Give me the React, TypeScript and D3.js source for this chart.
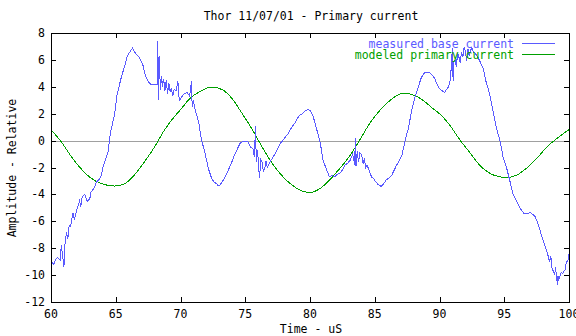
import React from "react";
import * as d3 from "d3";

const xTicks = [60, 65, 70, 75, 80, 85, 90, 95, 100];
const yTicks = [-12, -10, -8, -6, -4, -2, 0, 2, 4, 6, 8];

const measuredX = [
  60.0, 60.2, 60.4, 60.5, 60.7, 60.8, 60.9, 61.0, 61.05, 61.2, 61.3, 61.4, 61.5, 61.7, 61.8, 61.9, 62.0, 62.2, 62.3, 62.4,
  62.6, 62.8, 63.0, 63.1, 63.2, 63.35, 63.5, 63.7, 63.9, 64.0, 64.1, 64.25, 64.4, 64.6, 64.9, 65.1, 65.4, 65.7, 65.9, 66.1,
  66.3, 66.45, 66.6, 66.8, 67.1, 67.3, 67.5, 67.7, 68.0, 68.2, 68.25, 68.3, 68.35, 68.45, 68.55, 68.6, 68.7, 68.8, 68.9, 69.0,
  69.1, 69.2, 69.3, 69.4, 69.5, 69.65, 69.8, 69.9, 70.0, 70.2, 70.35, 70.5, 70.7, 70.85, 70.9, 71.0, 71.1, 71.25, 71.4, 71.6,
  71.9, 72.15, 72.4, 72.6, 72.8, 72.9, 73.05, 73.2, 73.4, 73.6, 73.8, 74.0, 74.2, 74.4, 74.6, 74.8, 75.0, 75.2, 75.4, 75.6,
  75.7, 75.8, 75.85, 75.95, 76.05, 76.1, 76.2, 76.3, 76.4, 76.5, 76.6, 76.7, 76.9, 77.1, 77.3, 77.5, 77.7, 77.9, 78.1, 78.3,
  78.45, 78.6, 78.8, 79.0, 79.2, 79.4, 79.6, 79.8, 80.0, 80.26, 80.5, 80.8, 81.0, 81.3, 81.5, 81.7, 81.9, 82.1, 82.3, 82.5,
  82.7, 82.9, 83.1, 83.3, 83.45, 83.5, 83.55, 83.65, 83.75, 83.85, 84.0, 84.1, 84.2, 84.3, 84.4, 84.6, 84.75, 84.9, 85.1, 85.3,
  85.5, 85.7, 85.9, 86.1, 86.3, 86.5, 86.7, 86.9, 87.1, 87.3, 87.45, 87.6, 87.85, 88.1, 88.4, 88.6, 88.8, 89.0, 89.2, 89.3,
  89.5, 89.65, 89.8, 90.0, 90.2, 90.4, 90.55, 90.7, 90.85, 91.0, 91.05, 91.1, 91.2, 91.3, 91.4, 91.5, 91.6, 91.7, 91.8, 91.9,
  92.0, 92.1, 92.2, 92.3, 92.4, 92.5, 92.6, 92.75, 92.9, 93.1, 93.25, 93.4, 93.6, 93.75, 93.9, 94.2, 94.4, 94.7, 94.9, 95.2,
  95.45, 95.7, 95.96, 96.2, 96.35, 96.5, 96.7, 96.9, 97.0, 97.2, 97.35, 97.5, 97.65, 97.8, 98.0, 98.3, 98.5, 98.6, 98.7, 98.8,
  98.9, 98.95, 99.05, 99.1, 99.15, 99.2, 99.3, 99.4, 99.5, 99.6, 99.7, 99.8, 99.9, 100.0,
];
const measuredY = [
  -9.0, -9.2, -8.8, -8.7, -8.9, -7.8, -8.6, -9.4, -7.9, -6.8, -7.3, -6.3, -6.4, -5.4, -5.9, -5.5, -5.1, -4.5, -4.9, -4.2,
  -4.0, -4.5, -4.3, -3.8, -3.7, -3.5, -3.1, -2.9, -2.6, -2.0, -1.7, -1.3, -0.85, 0.64, 1.9, 3.4, 4.6, 5.6, 6.3, 6.6,
  6.9, 6.6, 6.4, 6.2, 5.6, 4.8, 4.4, 4.2, 4.2, 4.2, 7.4, 3.0, 6.3, 3.8, 4.8, 4.0, 4.6, 3.7, 4.5, 3.5,
  4.3, 3.6, 3.9, 3.3, 3.8, 3.7, 4.4, 3.0, 3.1, 3.4, 3.5, 3.6, 3.3, 4.4, 2.5, 3.0, 2.4, 1.9, 1.4, 0.15,
  -0.96, -2.07, -2.8, -3.1, -3.2, -3.35, -3.3, -3.1, -2.8, -2.4, -1.95, -1.5, -1.0, -0.6, -0.2, -0.05, -0.05, -0.1, -0.47, -0.6,
  -1.2, 1.1, -1.6, -0.7, -2.2, -2.8, -1.4, -1.6, -2.3, -2.1, -1.5, -2.0, -1.6, -1.3, -1.0, -0.6, -0.2, 0.0, 0.27, 0.5,
  0.77, 1.0, 1.26, 1.6, 1.9, 2.0, 2.2, 2.3, 2.25, 1.75, 0.9, -0.2, -1.46, -2.2, -2.7, -2.6, -2.7, -2.5, -2.44, -2.2,
  -1.8, -1.7, -1.46, -1.0, -1.8, 0.2, -1.9, -0.8, -1.6, -0.9, -1.1, -1.7, -1.3, -2.0, -1.8, -2.3, -2.7, -2.8, -3.1, -3.3,
  -3.4, -3.2, -2.9, -2.8, -2.6, -2.2, -1.8, -1.5, -1.1, -0.2, 0.4, 0.9, 2.25, 3.2, 4.1, 4.7, 5.0, 5.1, 5.1, 5.0,
  4.8, 4.6, 4.2, 3.85, 3.7, 3.6, 3.8, 4.0, 4.6, 6.9, 4.4, 5.9, 6.0, 5.5, 6.5, 6.2, 5.8, 6.6, 6.2, 6.9,
  6.7, 5.9, 6.8, 6.3, 6.7, 6.9, 6.6, 6.5, 6.3, 5.95, 5.6, 5.3, 4.35, 3.9, 3.35, 1.9, 0.9, -0.1, -1.2, -2.1,
  -3.06, -4.05, -4.5, -5.0, -5.2, -5.4, -5.4, -5.4, -5.3, -5.5, -5.6, -5.9, -6.3, -6.8, -7.4, -8.25, -9.0, -8.6, -9.6, -9.7,
  -10.0, -9.4, -10.2, -10.7, -10.1, -10.4, -10.1, -9.8, -9.9, -9.7, -9.6, -9.0, -9.0, -8.4,
];

const modeledX = [
  60.0, 60.8, 61.5, 62.3, 63.1, 63.9, 64.9, 65.7, 66.4, 67.2, 68.0, 68.75, 69.5, 70.0, 70.7, 71.5, 72.4, 73.2, 74.0, 74.7,
  75.5, 76.3, 77.0, 77.8, 78.6, 79.4, 80.0, 80.8, 81.5, 82.3, 83.1, 83.9, 84.6, 85.4, 86.2, 86.8, 87.3, 88.1, 88.9, 89.5,
  90.0, 90.8, 91.6, 92.4, 93.1, 93.9, 94.7, 95.2, 95.96, 96.7, 97.5, 98.3, 99.05, 100.0,
];
const modeledY = [
  0.81, -0.1, -1.1, -2.07, -2.8, -3.2, -3.38, -3.2, -2.6, -1.6, -0.47, 0.77, 1.75, 2.3, 3.1, 3.65, 3.98, 3.8, 3.1, 2.1,
  0.89, -0.47, -1.58, -2.57, -3.3, -3.75, -3.85, -3.55, -2.94, -2.07, -1.1, 0.15, 1.26, 2.25, 3.0, 3.4, 3.53, 3.35, 2.86, 2.37,
  2.0, 1.14, 0.02, -0.96, -1.83, -2.44, -2.7, -2.74, -2.57, -2.07, -1.33, -0.47, 0.15, 0.81,
];

const W = 576;
const H = 336;
const left = 51;
const right = 569;
const top = 33;
const bottom = 302;
const FONT = "'DejaVu Sans Mono', monospace";
const BLUE = "#5a5aff";
const GREEN = "#00a000";

export default function App() {
  const x = d3.scaleLinear().domain([60, 100]).range([left, right]);
  const y = d3.scaleLinear().domain([-12, 8]).range([bottom, top]);

  const measured = measuredX.map((v, i) => [v, measuredY[i]] as [number, number]);
  const modeled = modeledX.map((v, i) => [v, modeledY[i]] as [number, number]);

  const lineLinear = d3
    .line<[number, number]>()
    .x((d) => x(d[0]))
    .y((d) => y(d[1]));
  const lineSmooth = d3
    .line<[number, number]>()
    .x((d) => x(d[0]))
    .y((d) => y(d[1]))
    .curve(d3.curveMonotoneX);

  const tl = 5;

  return (
    <svg
      width={W}
      height={H}
      style={{ position: "absolute", left: 0, top: 0, background: "#fff" }}
      fontFamily={FONT}
      fontSize={11.5}
    >
      <rect x={0} y={0} width={W} height={H} fill="#fff" />
      {/* zero axis */}
      <line
        x1={left}
        x2={right}
        y1={Math.round(y(0)) + 0.5}
        y2={Math.round(y(0)) + 0.5}
        stroke="#a0a0a0"
        strokeWidth={1}
      />
      {/* ticks */}
      {xTicks.map((t) => {
        const px = Math.round(x(t)) + 0.5;
        return (
          <g key={"x" + t}>
            <line x1={px} x2={px} y1={bottom} y2={bottom - tl} stroke="#000" />
            <line x1={px} x2={px} y1={top} y2={top + tl} stroke="#000" />
            <text x={x(t)} y={318} textAnchor="middle" fill="#000">
              {t}
            </text>
          </g>
        );
      })}
      {yTicks.map((t) => {
        const py = Math.round(y(t)) + 0.5;
        return (
          <g key={"y" + t}>
            <line x1={left} x2={left + tl} y1={py} y2={py} stroke="#000" />
            <line x1={right} x2={right - tl} y1={py} y2={py} stroke="#000" />
            <text x={45} y={y(t) + 4} textAnchor="end" fill="#000">
              {t}
            </text>
          </g>
        );
      })}
      {/* data */}
      <path
        d={lineSmooth(modeled) || ""}
        fill="none"
        stroke={GREEN}
        strokeWidth={1}
        shapeRendering="crispEdges"
      />
      <path
        d={lineLinear(measured) || ""}
        fill="none"
        stroke={BLUE}
        strokeWidth={1}
        shapeRendering="crispEdges"
      />
      {/* border */}
      <rect
        x={left + 0.5}
        y={top + 0.5}
        width={right - left}
        height={bottom - top}
        fill="none"
        stroke="#000"
      />
      {/* legend */}
      <text x={514} y={47.5} textAnchor="end" fill={BLUE}>
        measured base current
      </text>
      <line x1={522} x2={555} y1={43.5} y2={43.5} stroke={BLUE} />
      <text x={514} y={58.5} textAnchor="end" fill={GREEN}>
        modeled primary current
      </text>
      <line x1={522} x2={555} y1={54.5} y2={54.5} stroke={GREEN} />
      {/* titles */}
      <text x={311} y={20} textAnchor="middle" fill="#000">
        Thor 11/07/01 - Primary current
      </text>
      <text x={311} y={333} textAnchor="middle" fill="#000">
        Time - uS
      </text>
      <text
        transform="translate(16,168) rotate(-90)"
        textAnchor="middle"
        fill="#000"
      >
        Amplitude - Relative
      </text>
    </svg>
  );
}
